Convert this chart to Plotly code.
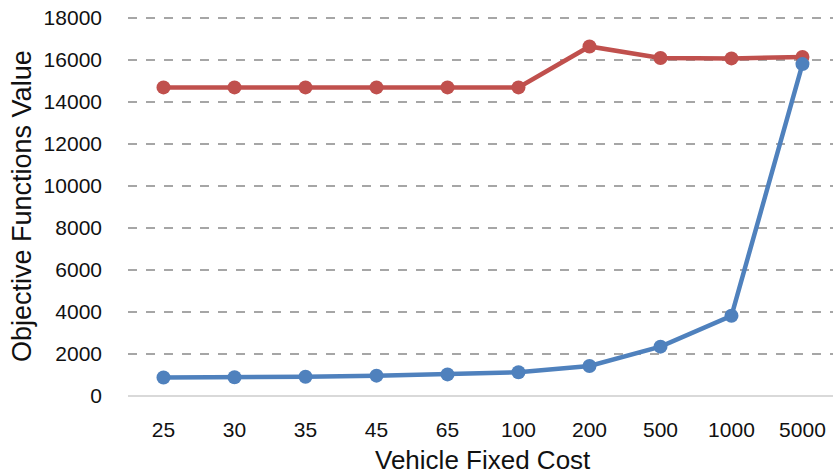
import plotly.graph_objects as go

categories = ["25", "30", "35", "45", "65", "100", "200", "500", "1000", "5000"]
blue_values = [880, 890, 920, 970, 1030, 1130, 1430, 2350, 3820, 15810]
red_values = [14700, 14700, 14700, 14700, 14700, 14700, 16650, 16100, 16080, 16150]
y_ticks = [0, 2000, 4000, 6000, 8000, 10000, 12000, 14000, 16000, 18000]

fig = go.Figure()
fig.add_trace(go.Scatter(x=list(range(len(categories))), y=red_values, mode="lines+markers",
                         line=dict(color="#C0504D", width=4.5), marker=dict(size=14, color="#C0504D"),
                         showlegend=False))
fig.add_trace(go.Scatter(x=list(range(len(categories))), y=blue_values, mode="lines+markers",
                         line=dict(color="#4F81BD", width=4.5), marker=dict(size=14, color="#4F81BD"),
                         showlegend=False))

font_family = "Liberation Sans, Arial, sans-serif"
L, T, B = 128, 16, 79
plot_w = 833 - L
plot_h = 475 - T - B
fig.update_layout(
    width=833, height=475,
    margin=dict(l=L, r=0, t=T, b=B, autoexpand=False),
    paper_bgcolor="white", plot_bgcolor="white",
    font=dict(family=font_family, color="#000000"),
    xaxis=dict(
        tickmode="array", tickvals=list(range(len(categories))), ticktext=categories,
        range=[-0.5, 9.43], showgrid=False, zeroline=False, showline=False, automargin=False,
        ticks="", tickfont=dict(size=21, color="#111111"), ticklabelstandoff=19,
    ),
    yaxis=dict(
        range=[0, 18100], tickvals=y_ticks, ticktext=[str(v) for v in y_ticks],
        showgrid=True, gridcolor="#A6A6A6", gridwidth=1.5, griddash="dash", automargin=False,
        zeroline=True, zerolinecolor="#D9D9D9", zerolinewidth=2,
        showline=False, ticks="", tickfont=dict(size=21, color="#111111"), ticklabelstandoff=25,
    ),
    annotations=[
        dict(text="Objective Functions Value", xref="paper", yref="paper",
             x=(22 - L) / plot_w, y=0.5, xanchor="center", yanchor="middle",
             textangle=-90, showarrow=False, font=dict(size=27, color="#111111")),
        dict(text="Vehicle Fixed Cost", xref="paper", yref="paper",
             x=(483 - L) / plot_w, y=-64 / plot_h, xanchor="center", yanchor="middle",
             showarrow=False, font=dict(size=26, color="#111111")),
    ],
)
fig.write_html("out.html", config={"displayModeBar": False},
               post_script="document.body.style.margin='0';document.body.style.overflow='hidden';")
